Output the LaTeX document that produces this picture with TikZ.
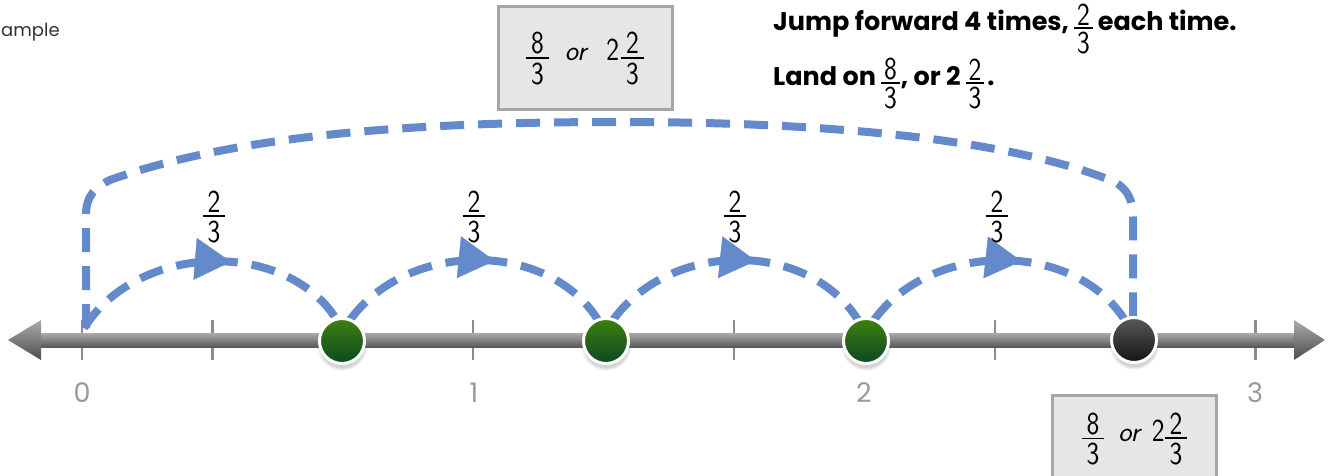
\documentclass[tikz,border=0pt]{standalone}
\usepackage{fontspec}
\setmainfont{Poppins}
\usepackage{graphicx}
\usetikzlibrary{arrows.meta,decorations.markings,shadows}
\definecolor{jump}{RGB}{100,138,204}
\definecolor{boxfill}{RGB}{230,230,230}
\definecolor{boxline}{RGB}{166,166,166}
\newcommand\frfont{\sffamily\mdseries\upshape\fontsize{32}{32}\selectfont}
\newcommand\frdig[1]{\hbox{\scalebox{0.85}[1]{\frfont #1}}}
\newcommand\fr[2]{\ensuremath{\vcenter{\offinterlineskip\halign{\hfil\kern5pt##\kern5pt\hfil\cr\frdig{#1}\cr\noalign{\kern3pt\hrule height 1.8pt\kern4pt}\frdig{#2}\cr}}}}
\newcommand\frt[2]{\ensuremath{\vcenter{\offinterlineskip\halign{\hfil\kern3pt##\kern3pt\hfil\cr\frdig{#1}\cr\noalign{\kern2pt\hrule height 1.8pt\kern3pt}\frdig{#2}\cr}}}}
\newcommand\frl[2]{\raisebox{-4pt}{\frt{#1}{#2}}}
\newcommand\orword{{\sffamily\fontsize{28}{30}\selectfont\itshape or}}
\begin{document}
\begin{tikzpicture}[x=1pt,y=-1pt,
  tickmk/.style={draw=black!45, line width=2.5pt},
  jumpline/.style={draw=jump, line width=8pt, dash pattern=on 24pt off 14pt},
  jumparrow/.style={postaction={decorate}, decoration={markings,
     mark=at position 0.57 with {\arrow{Triangle[length=36pt,width=42pt,line width=0.5pt,color=jump]}}}},
  numlab/.style={anchor=base, inner sep=0, text=black!40, font=\fontsize{27}{30}\selectfont},
  fraclab/.style={inner sep=0},
  dotbase/.style={circle, draw=white, line width=3pt, minimum size=45pt, inner sep=0,
     circular drop shadow={shadow xshift=0pt, shadow yshift=-4pt, shadow scale=1.12, opacity=0.35}},
  gdot/.style={dotbase, top color={rgb,255:red,62;green,128;blue,14}, bottom color={rgb,255:red,12;green,72;blue,34}},
  kdot/.style={dotbase, top color=black!65, bottom color=black!92},
  fbox/.style={draw=boxline, fill=boxfill, line width=3pt, inner sep=0},
]
\useasboundingbox (0,0) rectangle (1330,476);
\clip (0,0) rectangle (1330,476);

% header text
\node[anchor=base west, inner sep=0, text=black!80, font=\fontsize{18}{20}\selectfont] (ex) at (1,37) {ample};
\node[anchor=base west, inner sep=0, font=\bfseries\fontsize{25.5}{30}\selectfont] (t1) at (773,31)
  {Jump forward 4 times,\kern5pt\frl{2}{3}\kern5pt each time.};
\node[anchor=base west, inner sep=0, font=\bfseries\fontsize{25.5}{30}\selectfont] (t2) at (773,86)
  {Land on\kern5pt\frl{8}{3}\kern1pt, or 2\kern5pt\frl{2}{3}\kern3pt.};

% ticks
\foreach \i in {0,...,9}
  \draw[tickmk] ({82+130.4*\i},320) -- ({82+130.4*\i},360);

% number line
\shade[top color=black!33, bottom color=black!65] (38,333) rectangle (1297,347);
\shade[top color=black!33, bottom color=black!70] (8,340) -- (41,320) -- (41,360) -- cycle;
\shade[top color=black!33, bottom color=black!70] (1325,340) -- (1294,320) -- (1294,360) -- cycle;

% tick labels
\node[numlab] (n0) at (82,402) {0};
\node[numlab] (n1) at (474,402) {1};
\node[numlab] (n2) at (864,402) {2};
\node[numlab] (n3) at (1255,402) {3};

% outer bracket
\coordinate (bl) at (86,328);
\coordinate (br) at (1133,322);
\draw[jumpline] (bl) -- (86,215) .. controls (86,195) and (96,187) .. (110,180)
  .. controls (250,130) and (450,122) .. (620,122)
  .. controls (800,122) and (1000,135) .. (1115,182)
  .. controls (1128,190) and (1133,200) .. (1133,218) -- (br);

% jumps
\coordinate (j0) at (84,328);
\coordinate (j1a) at (338,322);
\coordinate (j1b) at (350,320);
\coordinate (j2a) at (598,320);
\coordinate (j2b) at (613,320);
\coordinate (j3a) at (858,320);
\coordinate (j3b) at (874,320);
\coordinate (j4a) at (1126,322);
\draw[jumpline, jumparrow] (j0) .. controls (140,240) and (290,240) .. (j1a);
\draw[jumpline, jumparrow] (j1b) .. controls (408,240) and (548,240) .. (j2a);
\draw[jumpline, jumparrow] (j2b) .. controls (671,240) and (808,240) .. (j3a);
\draw[jumpline, jumparrow] (j3b) .. controls (932,240) and (1076,240) .. (j4a);

% jump labels
\node[fraclab] (l1) at (214,217) {\fr{2}{3}};
\node[fraclab] (l2) at (474,217) {\fr{2}{3}};
\node[fraclab] (l3) at (735,217) {\fr{2}{3}};
\node[fraclab] (l4) at (997,217) {\fr{2}{3}};

% landing dots
\node[gdot] (d1) at (342,341) {};
\node[gdot] (d2) at (606,341) {};
\node[gdot] (d3) at (866,341) {};
\node[kdot] (d4) at (1134,340) {};

% answer boxes
\node[fbox, minimum width=174pt, minimum height=103pt] (b1) at (585,58.5)
  {\fr{8}{3}\hspace{16pt}\orword\hspace{20pt}\frdig{2}\hspace{2pt}\fr{2}{3}};
\node[fbox, minimum width=164pt, minimum height=88pt] (b2) at (1134.5,439)
  {\fr{8}{3}\hspace{14pt}\orword\hspace{12pt}\frdig{2}\hspace{0pt}\fr{2}{3}};
\end{tikzpicture}
\end{document}
